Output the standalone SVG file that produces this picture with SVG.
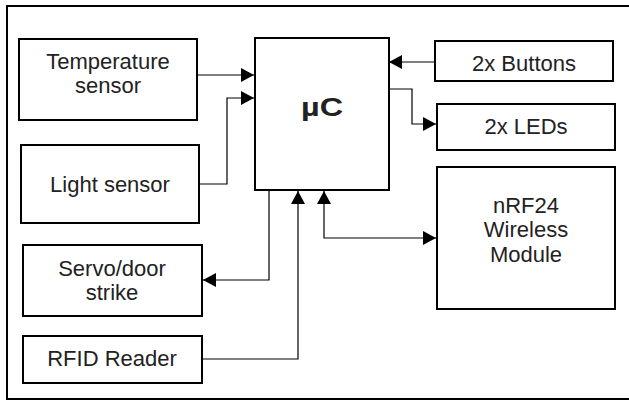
<svg xmlns="http://www.w3.org/2000/svg" width="629" height="401" viewBox="0 0 629 401">
<style>
.box{fill:#fff;stroke:#000;stroke-width:2}
.lbl{font-family:"Liberation Sans",Arial,sans-serif;font-size:22px;fill:#222;text-anchor:middle}
.big{font-family:"Liberation Sans",Arial,sans-serif;font-size:25px;font-weight:bold;fill:#222;text-anchor:middle}
.wire{fill:none;stroke:#000;stroke-width:1.2}
</style>
<defs>
<marker id="ah" markerUnits="userSpaceOnUse" markerWidth="14" markerHeight="14" refX="13" refY="7" orient="auto-start-reverse" viewBox="0 0 14 14">
<path d="M0,0 L13,7 L0,14 z" fill="#000"/>
</marker>
</defs>
<rect width="629" height="401" fill="#fff"/>
<path d="M629,6 H7 V399 H629" fill="none" stroke="#000" stroke-width="2"/>
<g id="connectors">
<path class="wire" d="M197,75 H254" marker-end="url(#ah)"/>
<path class="wire" d="M199,184 H227 V98 H254" marker-end="url(#ah)"/>
<path class="wire" d="M435,62 H389" marker-end="url(#ah)"/>
<path class="wire" d="M389,89 H412 V124 H436" marker-end="url(#ah)"/>
<path class="wire" d="M269,190 V280 H203" marker-end="url(#ah)"/>
<path class="wire" d="M202,359 H298 V191" marker-end="url(#ah)"/>
<path class="wire" d="M324,191 V238 H436" marker-start="url(#ah)" marker-end="url(#ah)"/>
</g>
<g id="temp"><rect class="box" x="19" y="39" width="178" height="81"/><text class="lbl" x="108" y="69">Temperature</text><text class="lbl" x="108" y="93">sensor</text></g>
<g id="light"><rect class="box" x="21" y="145" width="178" height="78"/><text class="lbl" x="110" y="192">Light sensor</text></g>
<g id="servo"><rect class="box" x="23" y="245" width="179" height="71"/><text class="lbl" x="112" y="276">Servo/door</text><text class="lbl" x="112" y="300">strike</text></g>
<g id="rfid"><rect class="box" x="23" y="336" width="179" height="47"/><text class="lbl" x="112" y="366">RFID Reader</text></g>
<g id="uc"><rect class="box" x="255" y="38" width="134" height="152"/><text class="big" x="322" y="116" textLength="42" lengthAdjust="spacingAndGlyphs">µC</text></g>
<g id="buttons"><rect class="box" x="435" y="41" width="178" height="40"/><text class="lbl" x="524" y="71">2x Buttons</text></g>
<g id="leds"><rect class="box" x="437" y="104" width="178" height="46"/><text class="lbl" x="526" y="134">2x LEDs</text></g>
<g id="nrf"><rect class="box" x="437" y="167" width="178" height="142"/><text class="lbl" x="526" y="213">nRF24</text><text class="lbl" x="526" y="237">Wireless</text><text class="lbl" x="526" y="262">Module</text></g>
</svg>
